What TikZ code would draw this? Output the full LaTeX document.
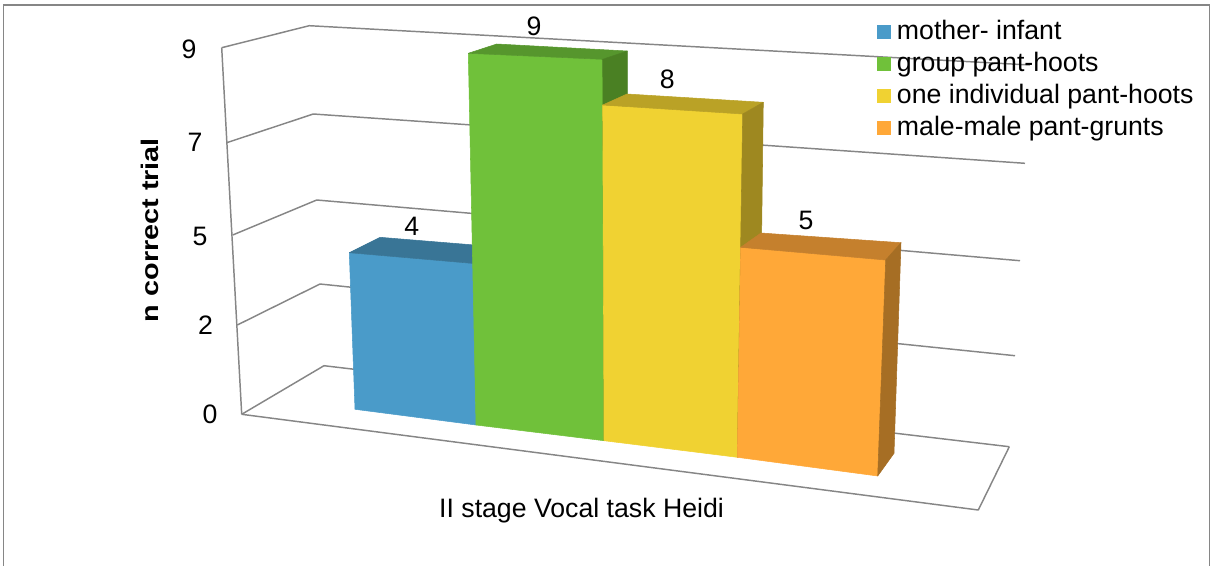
\documentclass[tikz,border=0pt]{standalone}
\usepackage{fontspec}
\setmainfont{Liberation Sans}
\usetikzlibrary{calc}
% bar face colours (front, top, side)
\definecolor{bluefront}{RGB}{74,155,201}
\definecolor{bluetop}{RGB}{57,117,150}
\definecolor{greenfront}{RGB}{112,193,58}
\definecolor{greentop}{RGB}{86,150,45}
\definecolor{greenside}{RGB}{74,128,35}
\definecolor{yellowfront}{RGB}{240,210,50}
\definecolor{yellowtop}{RGB}{186,162,38}
\definecolor{yellowside}{RGB}{158,136,32}
\definecolor{orangefront}{RGB}{255,168,56}
\definecolor{orangetop}{RGB}{197,128,45}
\definecolor{orangeside}{RGB}{166,110,36}
\definecolor{gridgray}{RGB}{134,134,134}
\begin{document}
\begin{tikzpicture}[x=0.75pt,y=-0.75pt,
  gridln/.style={draw=gridgray, line width=1.1pt, line join=round},
  frameln/.style={draw=gridgray, line width=1.2pt},
  face/.style={fill=#1, draw=#1, line width=0.4pt, line join=round},
  ticklbl/.style={anchor=east, inner sep=0pt, font=\fontsize{20}{20}\selectfont},
  vallbl/.style={inner sep=0pt, font=\fontsize{20}{20}\selectfont},
  legtxt/.style={anchor=base west, inner sep=0pt, font=\fontsize{20}{20}\selectfont},
  legkey/.style={fill=#1, draw=none}]
\useasboundingbox (0,0) rectangle (1211,565);

% outer frame
\draw[frameln] (3.5,566) -- (3.5,5) -- (1209.5,5) -- (1209.5,566);

% wall and floor grid: front edge, back-left corner, right end for each level
\coordinate (f0) at (241.7,414.3); \coordinate (b0) at (324,365.7);   \coordinate (r0) at (1009.3,446.7);
\coordinate (f1) at (237.3,325);   \coordinate (b1) at (320,284);     \coordinate (r1) at (1015,355.7);
\coordinate (f2) at (232.7,235);   \coordinate (b2) at (316.7,200);   \coordinate (r2) at (1020,260.7);
\coordinate (f3) at (226.7,142.7); \coordinate (b3) at (313.3,114);   \coordinate (r3) at (1025,163.3);
\coordinate (f4) at (221.7,47.7);  \coordinate (b4) at (309.3,25.7);  \coordinate (r4) at (1030,65);
\coordinate (fr) at (978.3,510);

\draw[gridln] (f0) -- (f4);
\foreach \i in {0,...,4} \draw[gridln] (f\i) -- (b\i) -- (r\i);
\draw[gridln] (f0) -- (fr) -- (r0);

% value axis labels
\node[ticklbl] (t0) at ($(f0)+(-24,0)$) {0};
\node[ticklbl] (t1) at ($(f1)+(-24,0)$) {2};
\node[ticklbl] (t2) at ($(f2)+(-25,1)$) {5};
\node[ticklbl] (t3) at ($(f3)+(-24,0)$) {7};
\node[ticklbl] (t4) at ($(f4)+(-25,1.5)$) {9};

% axis titles
\node[rotate=90, inner sep=0pt, font=\fontsize{18}{18}\selectfont\bfseries] (ytitle) at (150,230) {\scalebox{1.2}[1]{n correct trial}};
\node[anchor=base, inner sep=0pt, font=\fontsize{20}{20}\selectfont] (xtitle) at (581.5,517) {II stage Vocal task Heidi};

% bar: mother- infant
\path[face=bluefront] (349.3,252.7) -- (474,263.5) -- (476,425) -- (355,409.3) -- cycle;
\path[face=bluetop] (349.3,252.7) -- (380,237.3) -- (505,247.5) -- (474,263.5) -- cycle;

% bar: group pant-hoots
\path[face=greenfront] (468.3,53.3) -- (602.7,59.3) -- (604,440.7) -- (476,425) -- cycle;
\path[face=greentop] (468.3,53.3) -- (496.7,44) -- (627.3,51) -- (602.7,59.3) -- cycle;
\path[face=greenside] (602.7,59.3) -- (627.3,51) -- (627.3,420) -- (604,440.7) -- cycle;

% bar: one individual pant-hoots
\path[face=yellowfront] (602.7,105) -- (742.7,114) -- (737.3,457.3) -- (604,440.7) -- cycle;
\path[face=yellowtop] (602.7,105) -- (627,94) -- (763.3,102.3) -- (742.7,114) -- cycle;
\path[face=yellowside] (742.7,114) -- (763.3,102.3) -- (759,440) -- (737.3,457.3) -- cycle;

% bar: male-male pant-grunts
\path[face=orangefront] (740.7,247.3) -- (885.7,260) -- (877.7,476) -- (737.3,457.3) -- cycle;
\path[face=orangetop] (740.7,247.3) -- (761,233) -- (901,242.7) -- (885.7,260) -- cycle;
\path[face=orangeside] (885.7,260) -- (901,242.7) -- (894,453.3) -- (877.7,476) -- cycle;

% data labels
\node[vallbl] (v1) at (411.7,226.7) {4};
\node[vallbl] (v2) at (534,26.5) {9};
\node[vallbl] (v3) at (667.3,79.3) {8};
\node[vallbl] (v4) at (806,220.7) {5};

% legend
\fill[legkey=bluefront]   (876.7,24.7)  rectangle (890.7,38.7);
\fill[legkey=greenfront]  (876.7,56.7)  rectangle (890.7,70.7);
\fill[legkey=yellowfront] (876.7,88.7)  rectangle (890.7,102.7);
\fill[legkey=orangefront] (876.7,120.7) rectangle (890.7,134.7);
\node[legtxt] (l1) at (896.7,39.5)  {mother- infant};
\node[legtxt] (l2) at (896.7,71.5)  {group pant-hoots};
\node[legtxt] (l3) at (896.7,103.5) {one individual pant-hoots};
\node[legtxt] (l4) at (896.7,135.5) {male-male pant-grunts};
\end{tikzpicture}
\end{document}
